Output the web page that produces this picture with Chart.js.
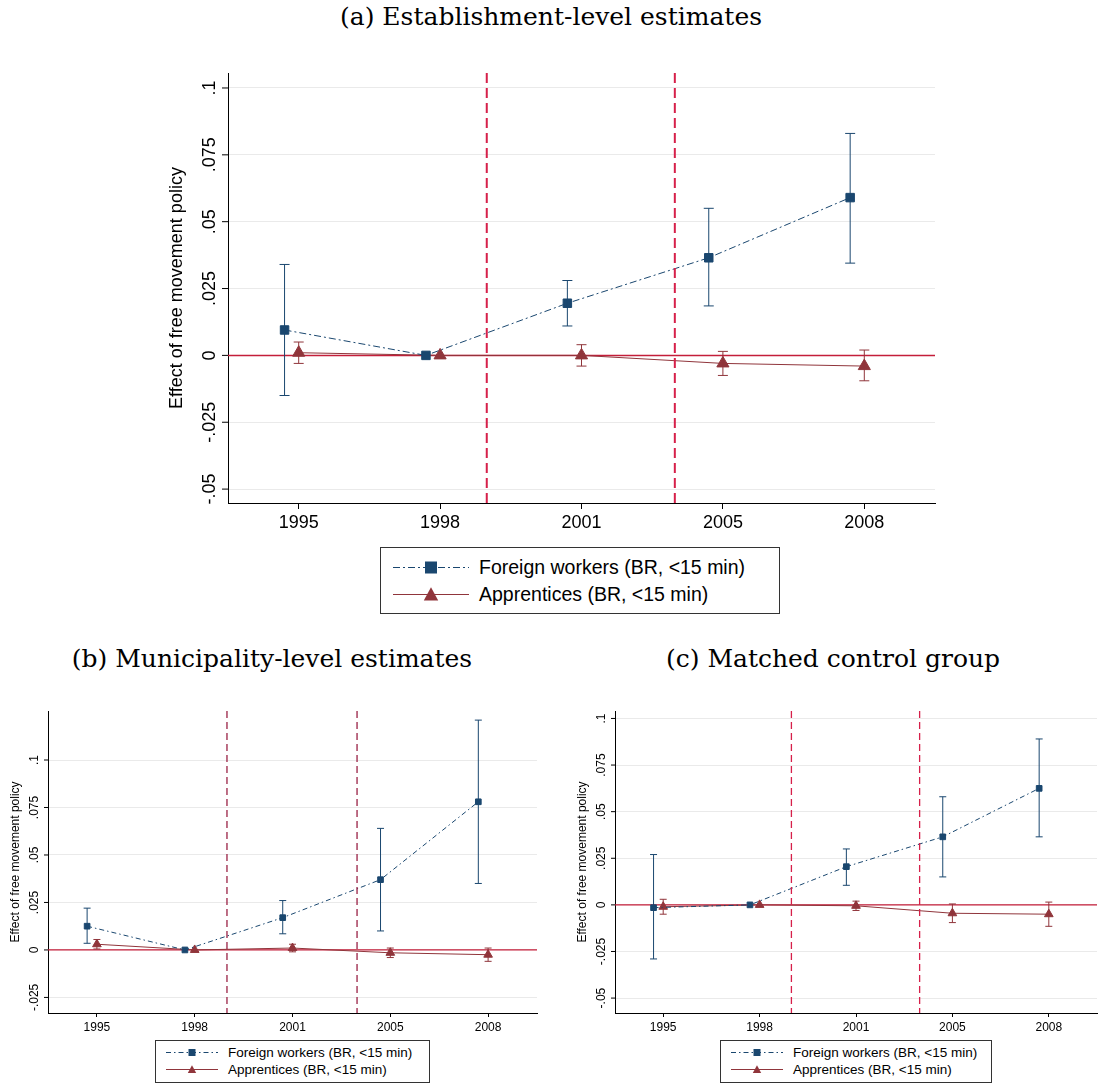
<!DOCTYPE html>
<html><head><meta charset="utf-8">
<script src="https://cdn.jsdelivr.net/npm/chart.js@4"></script>
<style>
body{margin:0;background:#fff;width:1103px;height:1086px;position:relative;overflow:hidden;font-family:"Liberation Sans",Arial,sans-serif}
.t{position:absolute;font-family:"DejaVu Serif","Liberation Serif",serif;white-space:nowrap;transform:translateX(-50%)}
canvas{position:absolute}
.lg{position:absolute;border:1px solid #333;background:#fff;box-sizing:border-box}
.lg div{display:flex;align-items:center;white-space:nowrap}
</style></head><body>
<div class="t" style="left:551px;top:2px;font-size:25px">(a) Establishment-level estimates</div>
<div class="t" style="left:272px;top:644px;font-size:25px">(b) Municipality-level estimates</div>
<div class="t" style="left:833px;top:644px;font-size:25px">(c) Matched control group</div>
<div style="position:absolute;left:160px;top:60px;width:790px;height:480px"><canvas id="ca"></canvas></div>
<div style="position:absolute;left:0px;top:700px;width:550px;height:350px"><canvas id="cb"></canvas></div>
<div style="position:absolute;left:565px;top:700px;width:538px;height:350px"><canvas id="cc"></canvas></div>
<div id="lga" class="lg" style="left:380px;top:547px;width:400px;height:67px;padding:6px 0 0 10px;font-size:19.5px"></div>
<div id="lgb" class="lg" style="left:155px;top:1040px;width:275px;height:43px;padding:3px 0 0 8px;font-size:13.5px"></div>
<div id="lgc" class="lg" style="left:720px;top:1040px;width:272px;height:43px;padding:3px 0 0 8px;font-size:13.5px"></div>
<script>
const years=['1995','1998','2001','2005','2008'];
const policyLines=[2.33,3.66];
// (a)
const aFor=[0.0095,0,0.0195,0.0365,0.059], aForLo=[-0.015,0,0.011,0.0185,0.0345], aForHi=[0.034,0,0.028,0.055,0.083];
const aApp=[0.001,0,0,-0.003,-0.004], aAppLo=[-0.003,0,-0.004,-0.0075,-0.0095], aAppHi=[0.005,0,0.004,0.0015,0.002];
const aTicks=['-.05','-.025','0','.025','.05','.075','.1'];
// (b)
const bFor=[0.0125,0,0.017,0.037,0.078], bForLo=[0.0035,0,0.0085,0.010,0.035], bForHi=[0.022,0,0.026,0.064,0.121];
const bApp=[0.003,0,0.001,-0.0015,-0.0025], bAppLo=[0.0005,0,-0.001,-0.004,-0.006], bAppHi=[0.0055,0,0.003,0.001,0.001];
const bTicks=['-.025','0','.025','.05','.075','.1'];
// (c)
const cFor=[-0.0015,0,0.0205,0.0365,0.0625], cForLo=[-0.029,0,0.0105,0.015,0.0365], cForHi=[0.027,0,0.030,0.058,0.089];
const cApp=[-0.001,0,-0.0005,-0.0045,-0.005], cAppLo=[-0.005,0,-0.003,-0.0095,-0.0115], cAppHi=[0.003,0,0.002,0.0005,0.0015];
const cTicks=['-.05','-.025','0','.025','.05','.075','.1'];

const NAVY='#1a476f', MAROON='#90353b';
const lbl1='Foreign workers (BR, <15 min)', lbl2='Apprentices (BR, <15 min)';

function make(id,o){
  const pts=(v,off)=>v.map((y,i)=>({x:i+1+off,y}));
  const errPlugin={id:'err',
    afterDatasetsDraw(ch){
      const c=ch.ctx,xs=ch.scales.x,ys=ch.scales.y,a=ch.chartArea;
      c.save();
      c.strokeStyle=o.vcol;c.lineWidth=o.big?2:1.3;c.setLineDash(o.big?[10,5]:[7,4]);
      policyLines.forEach(v=>{const px=xs.getPixelForValue(v);c.beginPath();c.moveTo(px,a.top);c.lineTo(px,a.bottom);c.stroke();});
      c.setLineDash([]);
      [[o.fLo,o.fHi,-0.1,NAVY],[o.aLo,o.aHi,0,MAROON]].forEach(([lo,hi,off,col])=>{
        c.strokeStyle=col;c.lineWidth=1;
        lo.forEach((l,i)=>{if(l===hi[i])return;const px=xs.getPixelForValue(i+1+off),p1=ys.getPixelForValue(l),p2=ys.getPixelForValue(hi[i]);const w=o.cap;
          c.beginPath();c.moveTo(px,p1);c.lineTo(px,p2);c.moveTo(px-w,p1);c.lineTo(px+w,p1);c.moveTo(px-w,p2);c.lineTo(px+w,p2);c.stroke();});
      });
      c.restore();
    },
    beforeDatasetsDraw(ch){
      const c=ch.ctx,ys=ch.scales.y,a=ch.chartArea;
      c.save();
      c.strokeStyle='#c41e3a';c.lineWidth=o.big?1.5:1.2;
      const z=ys.getPixelForValue(0);c.beginPath();c.moveTo(a.left,z);c.lineTo(a.right,z);c.stroke();
      c.restore();
    },
    afterDraw(ch){
      const c=ch.ctx,ys=ch.scales.y,a=ch.chartArea;
      c.save();c.fillStyle='#000';c.strokeStyle='#000';c.lineWidth=1;
      c.font=o.tf+'px "Liberation Sans",Arial';c.textAlign='center';c.textBaseline='bottom';
      o.ticks.forEach(t=>{const v=parseFloat(t.replace(/^(-?)\./,'$10.'));const p=ys.getPixelForValue(v);
        c.beginPath();c.moveTo(a.left-o.tl,p);c.lineTo(a.left,p);c.stroke();
        c.save();c.translate(a.left-o.tl-3,p);c.rotate(-Math.PI/2);c.fillText(t,0,0);c.restore();});
      c.save();c.font=o.yf+'px "Liberation Sans",Arial';c.textBaseline='top';
      c.translate(o.ytx,(a.top+a.bottom)/2);c.rotate(-Math.PI/2);c.fillText('Effect of free movement policy',0,0);c.restore();
      c.restore();
    }};
  new Chart(document.getElementById(id),{type:'line',
    data:{datasets:[
      {label:lbl1,data:pts(o.f,-0.1),borderColor:NAVY,backgroundColor:NAVY,borderWidth:1,borderDash:o.big?[7,3,2,3]:[5,3,1.5,3],pointStyle:'rect',pointRadius:o.pr,pointHoverRadius:o.pr},
      {label:lbl2,data:pts(o.ap,0),borderColor:MAROON,backgroundColor:MAROON,borderWidth:1,pointStyle:'triangle',pointRadius:o.pr+1,pointHoverRadius:o.pr+1}]},
    options:{responsive:true,maintainAspectRatio:false,animation:false,
      layout:{padding:{top:o.pt,right:o.pr2,left:0,bottom:0}},
      plugins:{legend:{display:false},tooltip:{enabled:false}},
      scales:{
        x:{type:'linear',min:0.5,max:5.5,afterBuildTicks(s){s.ticks=[1,2,3,4,5].map(v=>({value:v}));},
          afterFit(s){s.height=o.xh;},
          ticks:{callback:v=>years[v-1],color:'#000',font:{size:o.tf,family:'"Liberation Sans",Arial'},maxRotation:0,padding:3},
          grid:{display:true,drawOnChartArea:false,color:'#000',tickLength:o.tl},border:{color:'#000'}},
        y:{min:o.ymin,max:o.ymax,afterBuildTicks(s){s.ticks=o.ticks.map(t=>({value:parseFloat(t.replace(/^(-?)\./,'$10.'))}));},
          afterFit(s){s.width=o.yw;},
          ticks:{display:false},
          grid:{color:'#eaeaea',drawTicks:false},border:{color:'#000'}}
      }},
    plugins:[errPlugin]});
}
make('ca',{f:aFor,fLo:aForLo,fHi:aForHi,ap:aApp,aLo:aAppLo,aHi:aAppHi,ticks:aTicks,ymin:-0.0552,ymax:0.1056,
  big:true,vcol:'#d6204a',cap:5,pr:6,tf:18,yf:18,tl:6,ytx:8,yw:68,xh:37,pt:13,pr2:15});
make('cb',{f:bFor,fLo:bForLo,fHi:bForHi,ap:bApp,aLo:bAppLo,aHi:bAppHi,ticks:bTicks,ymin:-0.0332,ymax:0.1258,
  big:false,vcol:'#9a2245',cap:3.5,pr:4,tf:12,yf:12,tl:4,ytx:10,yw:48,xh:37,pt:11,pr2:13});
make('cc',{f:cFor,fLo:cForLo,fHi:cForHi,ap:cApp,aLo:cAppLo,aHi:cAppHi,ticks:cTicks,ymin:-0.058,ymax:0.104,
  big:false,vcol:'#d6204a',cap:3.5,pr:4,tf:12,yf:12,tl:4,ytx:12,yw:50,xh:37,pt:11,pr2:3});

function legend(id,w,h,sz,dash){
  const svg=(type,col)=>`<svg width="${w}" height="${h}" style="margin-right:8px"><line x1="2" y1="${h/2}" x2="${w-2}" y2="${h/2}" stroke="${col}" stroke-width="1" ${type==='r'?`stroke-dasharray="${dash}"`:''}/>`+
    (type==='r'?`<rect x="${w/2-sz}" y="${h/2-sz}" width="${2*sz}" height="${2*sz}" fill="${col}"/>`:`<polygon points="${w/2},${h/2-sz*1.2} ${w/2+sz*1.2},${h/2+sz} ${w/2-sz*1.2},${h/2+sz}" fill="${col}"/>`)+'</svg>';
  document.getElementById(id).innerHTML=`<div>${svg('r',NAVY)}${lbl1.replace('<','&lt;')}</div><div>${svg('t',MAROON)}${lbl2.replace('<','&lt;')}</div>`;
}
legend('lga',80,27,6,'7,3,2,3');
legend('lgb',56,17,3.5,'5,3,1.5,3');
legend('lgc',56,17,3.5,'5,3,1.5,3');
</script></body></html>
